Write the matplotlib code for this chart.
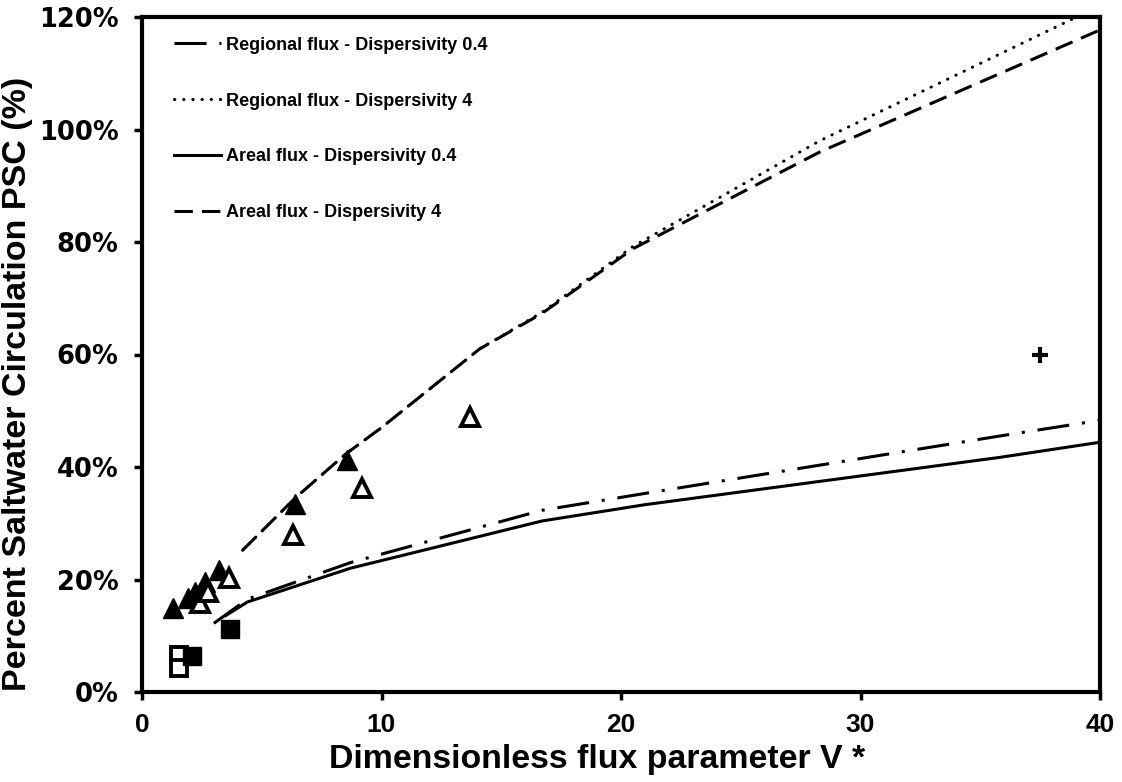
import matplotlib
matplotlib.use('Agg')
import matplotlib.pyplot as plt
from matplotlib.ticker import FuncFormatter

# model curves: dimensionless flux V* against percent saltwater circulation
v_reg_04 = [3.0, 4.4, 8.7, 16.7, 21.0, 35.8, 40.0]
psc_reg_04 = [12.2, 16.5, 23.0, 32.3, 35.3, 45.5, 48.3]

v_area_04 = [3.5, 4.4, 8.7, 16.7, 21.0, 35.8, 40.0]
psc_area_04 = [13.6, 16.0, 22.0, 30.4, 33.3, 41.7, 44.4]

v_disp4 = [4.2, 6.4, 8.5, 10.0, 14.1, 16.7, 20.5, 28.3, 40.0]
psc_reg_4 = [25.2, 34.5, 42.3, 47.0, 61.0, 67.5, 79.2, 98.0, 122.0]
psc_area_4 = [25.2, 34.5, 42.3, 47.0, 61.0, 67.3, 78.8, 96.0, 117.7]

# observations
v_tri_fill = [1.31, 1.93, 2.21, 2.63, 3.23, 6.39, 8.55]
psc_tri_fill = [14.9, 16.7, 17.8, 19.6, 21.7, 33.4, 41.2]

v_tri_open = [2.42, 2.76, 3.63, 6.3, 9.19, 13.7]
psc_tri_open = [15.8, 17.8, 20.3, 27.9, 36.3, 48.9]

v_sq_open = [1.55, 1.55]
psc_sq_open = [6.6, 4.3]

v_sq_fill = [2.1, 3.67]
psc_sq_fill = [6.4, 11.2]

v_plus = [37.5]
psc_plus = [60.0]

labels = ['Regional flux - Dispersivity 0.4',
          'Regional flux - Dispersivity 4',
          'Areal flux - Dispersivity 0.4',
          'Areal flux - Dispersivity 4']

plt.rcParams['font.family'] = ['Liberation Sans', 'DejaVu Sans']
plt.rcParams['font.weight'] = 'bold'

fig = plt.figure(figsize=(11.22, 7.82), dpi=100)
ax = fig.add_axes([142/1122, 90/782, 958/1122, 675/782])

lw = 2.2
ax.plot(v_reg_04, psc_reg_04, color='black', lw=lw, ls=(0, (10.5, 4.2, 1, 4.2)),
        dash_capstyle='butt', label=labels[0])
ax.plot(v_disp4, psc_reg_4, color='black', lw=lw, ls=(0, (0.1, 2.9)),
        dash_capstyle='round', label=labels[1])
ax.plot(v_area_04, psc_area_04, color='black', lw=lw, ls='-', label=labels[2])
ax.plot(v_disp4, psc_area_4, color='black', lw=lw, ls=(0, (6, 3)),
        dash_capstyle='butt', label=labels[3])

ax.plot(v_tri_fill, psc_tri_fill, ls='none', marker='^', ms=14,
        mfc='black', mec='black', mew=1)
ax.plot(v_tri_open, psc_tri_open, ls='none', marker='^', ms=12.5,
        mfc='white', mec='black', mew=2.8)
ax.plot(v_sq_open, psc_sq_open, ls='none', marker='s', ms=11,
        mfc='white', mec='black', mew=2.8)
ax.plot(v_sq_fill, psc_sq_fill, ls='none', marker='s', ms=12.5,
        mfc='black', mec='black', mew=1)
ax.plot(v_plus, psc_plus, ls='none', marker='+', ms=12,
        mec='black', mew=3)

ax.set_xlim(0, 40)
ax.set_ylim(0, 120)
ax.set_xticks([0, 10, 20, 30, 40])
ax.set_yticks([0, 20, 40, 60, 80, 100, 120])
ax.yaxis.set_major_formatter(FuncFormatter(lambda v, p: '%d%%' % v))

for s in ax.spines.values():
    s.set_linewidth(3)
ax.tick_params(direction='out', length=6, width=2.5, color='black')
ax.tick_params(axis='y', pad=11)
ax.tick_params(axis='x', pad=9)
for t in ax.get_yticklabels():
    t.set_fontfamily('DejaVu Sans')
    t.set_fontweight('bold')
    t.set_fontsize(18.5)
for t in ax.get_xticklabels():
    t.set_fontweight('bold')
    t.set_fontsize(19)

ax.set_xlabel('Dimensionless flux parameter V *', fontsize=24.4, fontweight='bold')
ax.set_ylabel('Percent Saltwater Circulation PSC (%)', fontsize=24.5, fontweight='bold')
ax.xaxis.set_label_coords(0.475, -0.077)
ax.yaxis.set_label_coords(-0.114, 0.456)

ax.legend(loc='upper left', bbox_to_anchor=(0.0127, 1.0), frameon=False,
          prop={'family': 'Liberation Sans', 'weight': 'bold', 'size': 13},
          handlelength=2.6, handletextpad=0.3, labelspacing=2.15, borderaxespad=0.69)

fig.savefig('out.png', dpi=100)
